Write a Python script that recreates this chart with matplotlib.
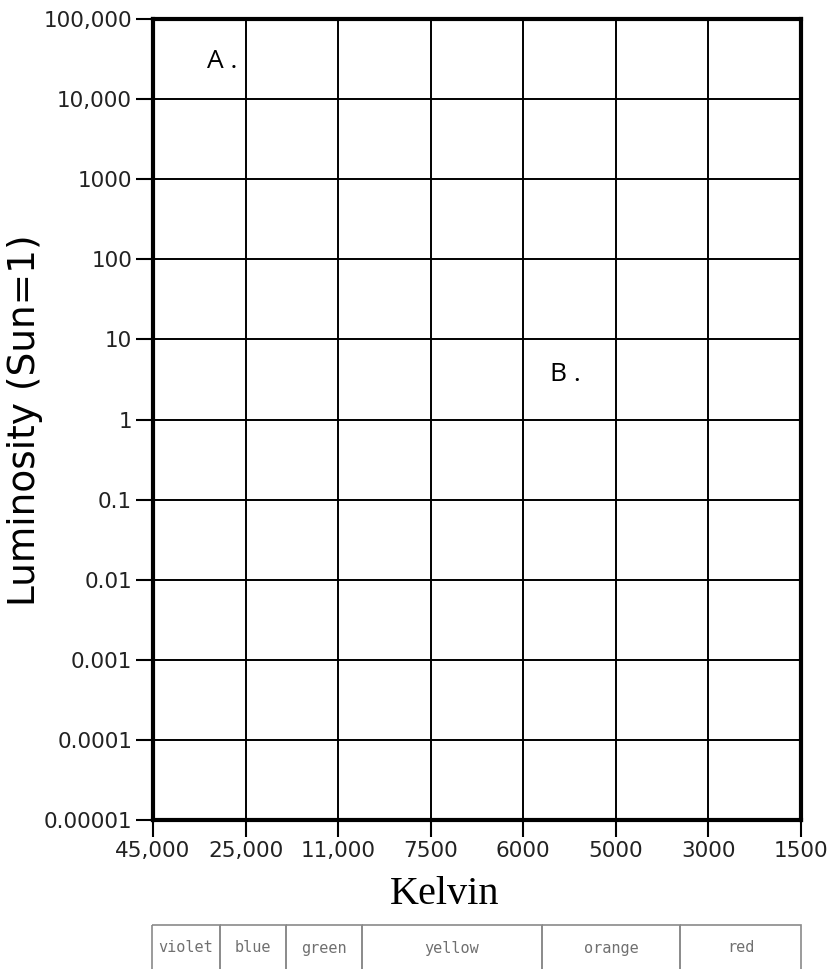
import matplotlib.pyplot as plt
from matplotlib.patches import Rectangle

# temperature ticks (Kelvin), evenly spaced on the axis
kelvin_labels = ["45,000", "25,000", "11,000", "7500", "6000", "5000", "3000", "1500"]
# luminosity decades
lum_values = [1e-5, 1e-4, 1e-3, 1e-2, 1e-1, 1, 10, 100, 1000, 1e4, 1e5]
lum_labels = ["0.00001", "0.0001", "0.001", "0.01", "0.1", "1", "10", "100", "1000", "10,000", "100,000"]

# point labels: (text, x index, luminosity)
points = [("A .", 0.75, 10 ** 4.47), ("B .", 4.46, 10 ** 0.56)]

# colour band strip under the axis: names and edges (in pixels of the strip)
band_names = ["violet", "blue", "green", "yellow", "orange", "red"]
band_edges = [152, 220, 286, 362, 542, 680, 801]

W, H = 829, 969
fig = plt.figure(figsize=(W / 100, H / 100), dpi=100)
ax = fig.add_axes([153 / W, 1 - 820 / H, (801 - 153) / W, (820 - 19) / H])

ax.set_yscale("log")
ax.set_ylim(lum_values[0], lum_values[-1])
ax.set_xlim(0, len(kelvin_labels) - 1)

ax.set_xticks(range(len(kelvin_labels)))
ax.set_xticklabels(kelvin_labels, fontsize=15.5, color="#222222")
ax.set_yticks(lum_values)
ax.set_yticklabels(lum_labels, fontsize=15.5, color="#222222")
ax.yaxis.set_minor_locator(plt.NullLocator())

ax.tick_params(axis="both", direction="out", length=12, width=1.5, color="black")
ax.tick_params(axis="x", pad=3)
ax.tick_params(axis="y", pad=3)

ax.grid(True, color="black", linewidth=1.4)
for s in ax.spines.values():
    s.set_linewidth(3)
    s.set_zorder(5)

fig.text(25 / W, 1 - 420 / H, "Luminosity (Sun=1)", fontsize=27, rotation=90,
         ha="center", va="center")
fig.text(445 / W, 1 - 904 / H, "Kelvin", fontsize=29, family="Liberation Serif",
         ha="center", va="baseline")

for txt, xi, yv in points:
    ax.text(xi, yv, txt, fontsize=19, family="Open Sans", ha="center", va="center")

# colour band strip
bx = fig.add_axes([0, 0, 1, 1])
bx.set_xlim(0, W)
bx.set_ylim(H, 0)
bx.axis("off")
top = 925
for i, name in enumerate(band_names):
    x0, x1 = band_edges[i], band_edges[i + 1]
    bx.add_patch(Rectangle((x0, top), x1 - x0, 60, fill=False,
                           edgecolor="#8a8a8a", linewidth=1.2))
    bx.text((x0 + x1) / 2, 948, name, fontsize=11, family="DejaVu Sans Mono",
            color="#707070", ha="center", va="center")

fig.savefig("out.png", dpi=100)
